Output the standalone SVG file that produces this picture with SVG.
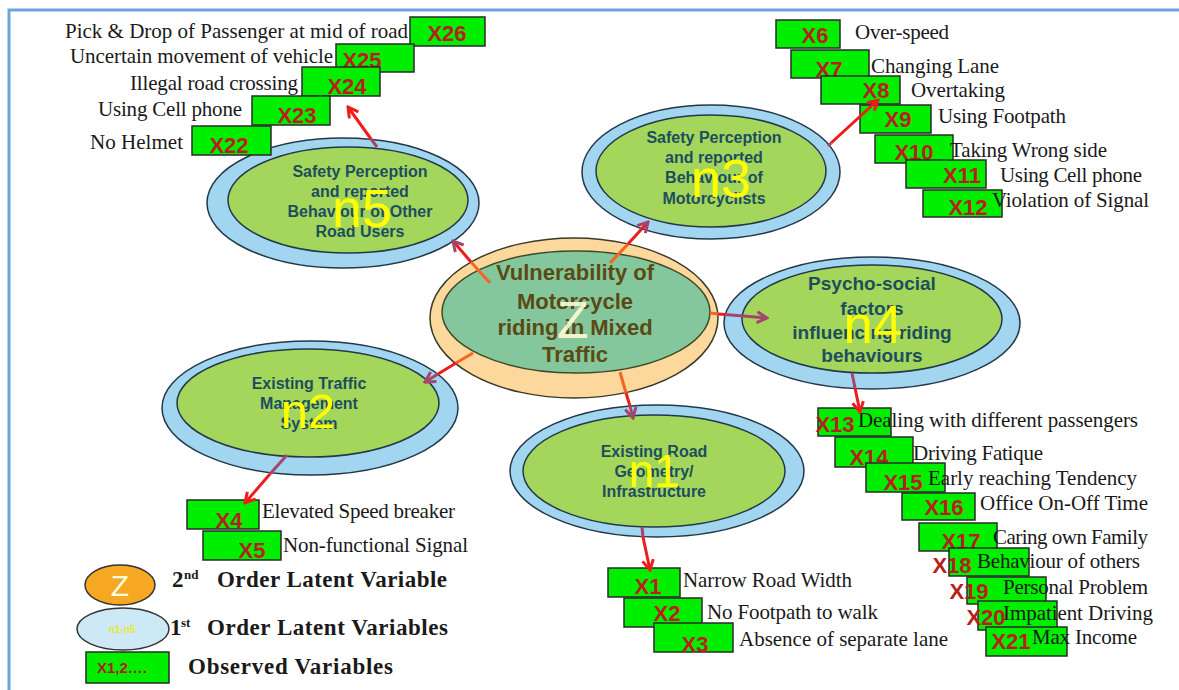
<svg xmlns="http://www.w3.org/2000/svg" width="1179" height="690" viewBox="0 0 1179 690">
<defs>
<style>
.ring{fill:#a2d5ef;stroke:#22384a;stroke-width:1.5}
.core{fill:#a4d65c;stroke:#22384a;stroke-width:1.5}
.nt{font-family:"Liberation Sans",Arial,sans-serif;font-weight:bold;font-size:16px;fill:#1d4e5e;text-anchor:middle}
.nt4{font-family:"Liberation Sans",Arial,sans-serif;font-weight:bold;font-size:19px;fill:#1d4e5e;text-anchor:middle}
.nl{font-family:"Liberation Sans",Arial,sans-serif;fill:#ffff00;text-anchor:middle}
.xb{fill:#00ee00;stroke:#2a2a2a;stroke-width:1.5}
.xt{font-family:"Liberation Sans",Arial,sans-serif;font-weight:bold;font-size:22px;fill:#b81f1c;text-anchor:middle}
.lb{font-family:"Liberation Serif","Times New Roman",serif;font-size:21px;fill:#1a1a1a}
.lg{font-family:"Liberation Serif","Times New Roman",serif;font-size:23px;font-weight:bold;fill:#1a1a1a}
.sup{font-family:"Liberation Serif","Times New Roman",serif;font-size:13px;font-weight:bold;fill:#1a1a1a}
.red{stroke:#ee1c1c;stroke-width:3;fill:none}
.org{stroke:#f26522;stroke-width:3;fill:none}
.mv{stroke:#a4456f;stroke-width:3;fill:none}
</style>
<marker id="ar" viewBox="0 0 14 14" refX="12" refY="7" markerWidth="14" markerHeight="14" markerUnits="userSpaceOnUse" orient="auto">
<path d="M2,1.5 L12,7 L2,12.5" fill="none" stroke="#ee1c1c" stroke-width="3"/>
</marker>
<marker id="am" viewBox="0 0 14 14" refX="12" refY="7" markerWidth="14" markerHeight="14" markerUnits="userSpaceOnUse" orient="auto">
<path d="M2,1.5 L12,7 L2,12.5" fill="none" stroke="#a4456f" stroke-width="3"/>
</marker>
</defs>
<rect x="0" y="0" width="1179" height="690" fill="#ffffff"/>
<path d="M9,690 V10 H1179" fill="none" stroke="#6fa3dd" stroke-width="3"/>

<g id="Z">
<ellipse cx="574" cy="318" rx="144" ry="80" fill="#fcd89c" stroke="#3a3a2a" stroke-width="1.5"/>
<ellipse cx="576" cy="312" rx="134" ry="61" fill="#85c79c" stroke="#3d4a2a" stroke-width="1.5"/>
<g font-family="Liberation Sans, Arial, sans-serif" font-weight="bold" font-size="22" fill="#5a4a14" text-anchor="middle">
<text x="575" y="280">Vulnerability  of</text>
<text x="575" y="309">Motorcycle</text>
<text x="575" y="335">riding in Mixed</text>
<text x="575" y="362">Traffic</text>
</g>
<text x="573" y="338" font-family="Liberation Sans, Arial, sans-serif" font-size="52" fill="#fdfbd2" fill-opacity="0.9" text-anchor="middle">Z</text>
</g>

<g id="n5">
<ellipse class="ring" cx="343" cy="203" rx="136" ry="65"/>
<ellipse class="core" cx="348" cy="200" rx="120" ry="53"/>
<text class="nt" x="360" y="177">Safety Perception</text>
<text class="nt" x="360" y="197">and reported</text>
<text class="nt" x="360" y="217">Behaviour of Other</text>
<text class="nt" x="360" y="237">Road Users</text>
<text class="nl" x="362" y="227" font-size="54">n5</text>
</g>

<g id="n3">
<ellipse class="ring" cx="711" cy="172" rx="129" ry="67"/>
<ellipse class="core" cx="711" cy="171" rx="115" ry="56"/>
<text class="nt" x="714" y="143">Safety Perception</text>
<text class="nt" x="714" y="163">and reported</text>
<text class="nt" x="714" y="183">Behaviour of</text>
<text class="nt" x="714" y="204">Motorcyclists</text>
<text class="nl" x="721" y="197" font-size="54">n3</text>
</g>

<g id="n4">
<ellipse class="ring" cx="872" cy="323" rx="148" ry="66"/>
<ellipse class="core" cx="872" cy="319" rx="130" ry="54"/>
<text class="nt4" x="872" y="290">Psycho-social</text>
<text class="nt4" x="872" y="315">factors</text>
<text class="nt4" x="872" y="339">influencing riding</text>
<text class="nt4" x="872" y="362">behaviours</text>
<text class="nl" x="873" y="343" font-size="53">n4</text>
</g>

<g id="n2">
<ellipse class="ring" cx="310" cy="408" rx="148" ry="67"/>
<ellipse class="core" cx="308" cy="403" rx="131" ry="54"/>
<text class="nt" x="309" y="389">Existing Traffic</text>
<text class="nt" x="309" y="409">Management</text>
<text class="nt" x="309" y="429">System</text>
<text class="nl" x="308" y="428" font-size="49">n2</text>
</g>

<g id="n1">
<ellipse class="ring" cx="657" cy="471" rx="147" ry="66"/>
<ellipse class="core" cx="654" cy="471" rx="131" ry="56"/>
<text class="nt" x="654" y="457">Existing Road</text>
<text class="nt" x="654" y="477">Geometry/</text>
<text class="nt" x="654" y="497">Infrastructure</text>
<text class="nl" x="654" y="487" font-size="46">n1</text>
</g>

<g id="X26"><rect class="xb" x="410" y="17" width="75" height="29"/><text class="xt" x="447" y="41">X26</text><text class="lb" x="65" y="38" textLength="343">Pick &amp; Drop of Passenger at mid of road</text></g>
<g id="X25"><rect class="xb" x="336" y="44" width="78" height="28"/><text class="xt" x="362" y="68">X25</text><text class="lb" x="70" y="63" textLength="263">Uncertain movement of vehicle</text></g>
<g id="X24"><rect class="xb" x="302" y="67" width="78" height="29"/><text class="xt" x="347" y="94">X24</text><text class="lb" x="130" y="90" textLength="168">Illegal road crossing</text></g>
<g id="X23"><rect class="xb" x="252" y="96" width="78" height="29"/><text class="xt" x="297" y="123">X23</text><text class="lb" x="98" y="116" textLength="144">Using Cell phone</text></g>
<g id="X22"><rect class="xb" x="192" y="126" width="79" height="29"/><text class="xt" x="229" y="153">X22</text><text class="lb" x="90" y="149" textLength="93">No Helmet</text></g>

<g id="X6"><rect class="xb" x="776" y="20" width="64" height="28"/><text class="xt" x="815" y="43">X6</text><text class="lb" x="855" y="39" textLength="94">Over-speed</text></g>
<g id="X7"><rect class="xb" x="791" y="50" width="78" height="28"/><text class="xt" x="829" y="77">X7</text><text class="lb" x="871" y="73" textLength="128">Changing Lane</text></g>
<g id="X8"><rect class="xb" x="821" y="76" width="79" height="28"/><text class="xt" x="876" y="98">X8</text><text class="lb" x="911" y="97" textLength="94">Overtaking</text></g>
<g id="X9"><rect class="xb" x="860" y="105" width="71" height="28"/><text class="xt" x="898" y="127">X9</text><text class="lb" x="938" y="123" textLength="128">Using Footpath</text></g>
<g id="X10"><rect class="xb" x="875" y="135" width="78" height="28"/><text class="xt" x="914" y="160">X10</text><text class="lb" x="950" y="157" textLength="157">Taking Wrong side</text></g>
<g id="X11"><rect class="xb" x="906" y="160" width="80" height="28"/><text class="xt" x="962" y="183">X11</text><text class="lb" x="1000" y="182" textLength="142">Using Cell phone</text></g>
<g id="X12"><rect class="xb" x="923" y="190" width="79" height="27"/><text class="xt" x="968" y="215">X12</text><text class="lb" x="992" y="207" textLength="157">Violation of Signal</text></g>

<g id="X13"><rect class="xb" x="818" y="408" width="73" height="28"/><text class="xt" x="835" y="432">X13</text><text class="lb" x="858" y="427" textLength="280">Dealing with different passengers</text></g>
<g id="X14"><rect class="xb" x="835" y="437" width="78" height="30"/><text class="xt" x="869" y="465">X14</text><text class="lb" x="913" y="460" textLength="130">Driving Fatique</text></g>
<g id="X15"><rect class="xb" x="866" y="463" width="79" height="29"/><text class="xt" x="903" y="490">X15</text><text class="lb" x="928" y="485" textLength="209">Early reaching Tendency</text></g>
<g id="X16"><rect class="xb" x="902" y="493" width="73" height="27"/><text class="xt" x="944" y="515">X16</text><text class="lb" x="980" y="510" textLength="168">Office On-Off Time</text></g>
<g id="X17"><rect class="xb" x="919" y="523" width="78" height="28"/><text class="xt" x="961" y="549">X17</text><text class="lb" x="993" y="544" textLength="155">Caring own Family</text></g>
<g id="X18"><rect class="xb" x="949" y="548" width="80" height="28"/><text class="xt" x="952" y="573">X18</text><text class="lb" x="977" y="568" textLength="163">Behaviour of others</text></g>
<g id="X19"><rect class="xb" x="967" y="577" width="79" height="27"/><text class="xt" x="969" y="599">X19</text><text class="lb" x="1003" y="594" textLength="145">Personal Problem</text></g>
<g id="X20"><rect class="xb" x="978" y="601" width="79" height="29"/><text class="xt" x="986" y="625">X20</text><text class="lb" x="1003" y="620" textLength="150">Impatient Driving</text></g>
<g id="X21"><rect class="xb" x="986" y="627" width="81" height="29"/><text class="xt" x="1011" y="649">X21</text><text class="lb" x="1032" y="644" textLength="105">Max Income</text></g>

<g id="X1"><rect class="xb" x="608" y="568" width="72" height="29"/><text class="xt" x="648" y="594">X1</text><text class="lb" x="683" y="587" textLength="169">Narrow Road Width</text></g>
<g id="X2"><rect class="xb" x="624" y="598" width="78" height="29"/><text class="xt" x="667" y="621">X2</text><text class="lb" x="707" y="619" textLength="171">No Footpath to walk</text></g>
<g id="X3"><rect class="xb" x="654" y="623" width="79" height="29"/><text class="xt" x="695" y="652">X3</text><text class="lb" x="739" y="646" textLength="209">Absence of separate lane</text></g>

<g id="X4"><rect class="xb" x="187" y="500" width="72" height="29"/><text class="xt" x="229" y="528">X4</text><text class="lb" x="262" y="518" textLength="193">Elevated Speed breaker</text></g>
<g id="X5"><rect class="xb" x="203" y="531" width="78" height="29"/><text class="xt" x="252" y="558">X5</text><text class="lb" x="283" y="552" textLength="185">Non-functional Signal</text></g>

<g id="legend">
<ellipse cx="120" cy="585" rx="35" ry="20" fill="#f7a823" stroke="#333" stroke-width="1.5"/>
<text x="120" y="596" font-family="Liberation Sans, Arial, sans-serif" font-size="30" fill="#fffde0" text-anchor="middle">Z</text>
<text class="lg" x="172" y="587">2</text><text class="sup" x="184" y="579">nd</text>
<text class="lg" x="217" y="587" textLength="230">Order Latent Variable</text>
<ellipse cx="123" cy="629" rx="46" ry="21" fill="#cde9f6" stroke="#333" stroke-width="1.5"/>
<text x="122" y="633" font-family="Liberation Sans, Arial, sans-serif" font-size="10" font-weight="bold" fill="#e8e82a" text-anchor="middle">n1-n5</text>
<text class="lg" x="170" y="635">1</text><text class="sup" x="181" y="627">st</text>
<text class="lg" x="207" y="635" textLength="241">Order Latent Variables</text>
<rect class="xb" x="86" y="652" width="83" height="31"/>
<text x="122" y="673" font-family="Liberation Sans, Arial, sans-serif" font-size="15" font-weight="bold" fill="#b01c1c" text-anchor="middle">X1,2….</text>
<text class="lg" x="188" y="674" textLength="205">Observed Variables</text>
</g>

<g id="connectors">
<line class="org" x1="490" y1="283" x2="471" y2="262"/>
<line class="red" x1="471" y1="262" x2="453" y2="241" marker-end="url(#am)"/>
<line class="org" x1="610" y1="263" x2="628" y2="244"/>
<line class="red" x1="628" y1="244" x2="648" y2="222" marker-end="url(#am)"/>
<line class="org" x1="710" y1="313" x2="718" y2="314"/>
<line class="red" x1="718" y1="314" x2="725" y2="314.5"/>
<line class="mv" x1="725" y1="314.5" x2="767" y2="318" marker-end="url(#am)"/>
<line class="org" x1="473" y1="353" x2="456" y2="363"/>
<line class="red" x1="456" y1="363" x2="438" y2="374"/>
<line class="mv" x1="438" y1="374" x2="425" y2="382" marker-end="url(#am)"/>
<line class="org" x1="620" y1="372" x2="626" y2="393"/>
<line class="red" x1="626" y1="393" x2="630" y2="406"/>
<line class="mv" x1="630" y1="406" x2="633" y2="418" marker-end="url(#am)"/>
<line class="mv" x1="377" y1="147" x2="371" y2="139"/>
<line class="red" x1="371" y1="139" x2="348" y2="107" marker-end="url(#ar)"/>
<line class="mv" x1="828" y1="146" x2="831" y2="143"/>
<line class="red" x1="831" y1="143" x2="878" y2="100" marker-end="url(#ar)"/>
<line class="mv" x1="852" y1="373" x2="855" y2="388"/>
<line class="red" x1="855" y1="388" x2="860" y2="412" marker-end="url(#ar)"/>
<line class="mv" x1="287" y1="455" x2="270" y2="474"/>
<line class="red" x1="270" y1="474" x2="245" y2="503" marker-end="url(#ar)"/>
<line class="mv" x1="642" y1="527" x2="643" y2="537"/>
<line class="red" x1="643" y1="537" x2="650" y2="570" marker-end="url(#ar)"/>
</g>
</svg>
